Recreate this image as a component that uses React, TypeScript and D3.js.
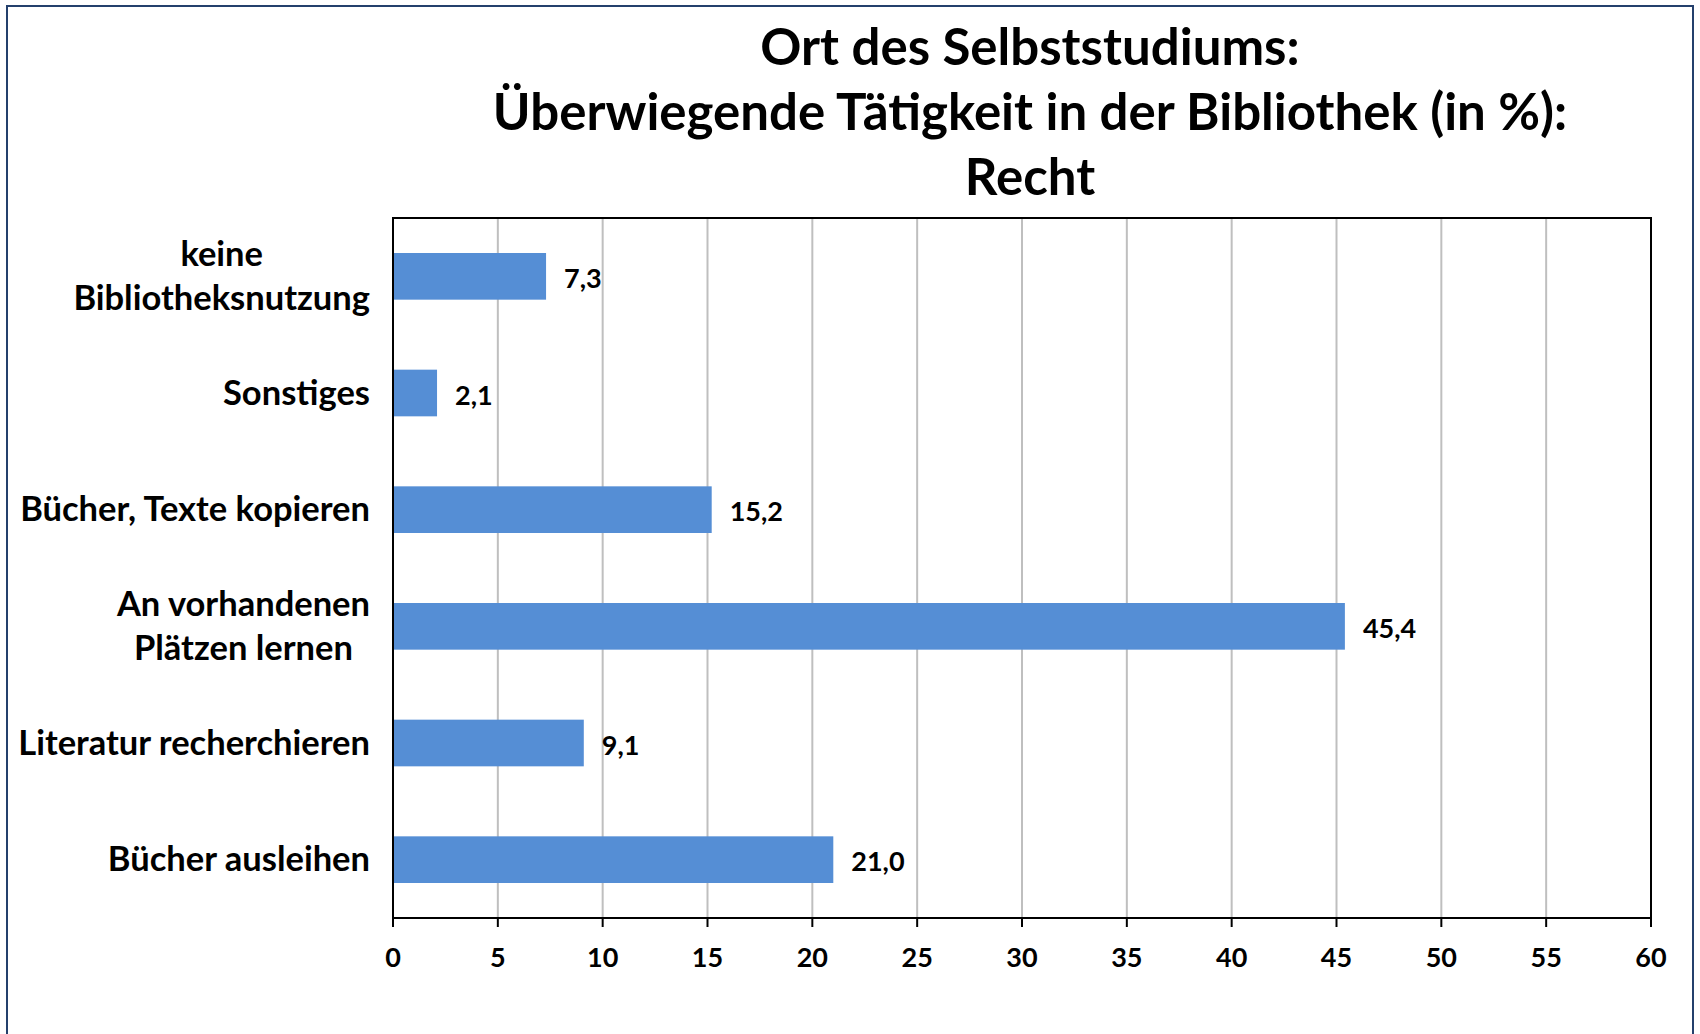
import React from "react";
import * as d3 from "d3";

const titleLines = [
  "Ort des Selbststudiums:",
  "Überwiegende Tätigkeit in der Bibliothek (in %):",
  "Recht",
];
const categories = [
  "keine Bibliotheksnutzung",
  "Sonstiges",
  "Bücher, Texte kopieren",
  "An vorhandenen Plätzen lernen",
  "Literatur recherchieren",
  "Bücher ausleihen",
];
const categoryLines = [
  ["keine", "Bibliotheksnutzung"],
  ["Sonstiges"],
  ["Bücher, Texte kopieren"],
  ["An vorhandenen", "Plätzen lernen"],
  ["Literatur recherchieren"],
  ["Bücher ausleihen"],
];
const values = [7.3, 2.1, 15.2, 45.4, 9.1, 21.0];
const xTicks = [0, 5, 10, 15, 20, 25, 30, 35, 40, 45, 50, 55, 60];

const W = 1700;
const H = 1034;
const plot = { left: 393, right: 1651, top: 218, bottom: 918 };
const FONT = "Lato, 'Open Sans', sans-serif";
const CAT_SIZE = 34.5;
const NUM_SIZE = 27;

export default function App() {
  const x = d3.scaleLinear().domain([0, 60]).range([plot.left, plot.right]);
  const y = d3
    .scaleBand<string>()
    .domain(categories)
    .range([plot.top, plot.bottom])
    .paddingInner(0.6)
    .paddingOuter(0.3);
  const fmt = (v: number) => v.toFixed(1).replace(".", ",");
  const labelRight = 370;
  const lineGap = 44;

  return (
    <svg
      width={W}
      height={H}
      style={{ position: "absolute", left: 0, top: 0, background: "#fff" }}
      fontFamily={FONT}
      fontWeight={700}
    >
      <rect x={0} y={0} width={W} height={H} fill="#fff" />
      {/* outer chart border */}
      <rect x={7} y={6} width={1686} height={1100} fill="none" stroke="#24406c" strokeWidth={2} />

      {/* title */}
      {titleLines.map((t, i) => (
        <text key={t} x={1030} y={65 + i * 65} textAnchor="middle" fontSize={51} fill="#000">
          {t}
        </text>
      ))}

      {/* gridlines */}
      {xTicks.slice(1, -1).map((t) => (
        <line key={"g" + t} x1={x(t)} x2={x(t)} y1={plot.top} y2={plot.bottom} stroke="#bfbfbf" strokeWidth={2} />
      ))}

      {/* bars */}
      {categories.map((c, i) => (
        <rect
          key={c}
          x={x(0)}
          y={y(c)}
          width={x(values[i]) - x(0)}
          height={y.bandwidth()}
          fill="#558ed5"
        />
      ))}

      {/* plot border */}
      <rect
        x={plot.left}
        y={plot.top}
        width={plot.right - plot.left}
        height={plot.bottom - plot.top}
        fill="none"
        stroke="#000"
        strokeWidth={2}
      />

      {/* ticks */}
      {xTicks.map((t) => (
        <g key={"t" + t}>
          <line x1={x(t)} x2={x(t)} y1={plot.bottom} y2={plot.bottom + 9} stroke="#000" strokeWidth={2} />
          <text x={x(t)} y={956} textAnchor="middle" dominantBaseline="central" fontSize={NUM_SIZE} fill="#000">
            {t}
          </text>
        </g>
      ))}

      {/* value labels */}
      {categories.map((c, i) => (
        <text
          key={"v" + c}
          x={x(values[i]) + 18}
          y={(y(c) as number) + y.bandwidth() / 2 + 1}
          dominantBaseline="central"
          fontSize={NUM_SIZE}
          fill="#000"
        >
          {fmt(values[i])}
        </text>
      ))}

      {/* category labels */}
      {categories.map((c, i) => {
        const lines = categoryLines[i];
        const cy = (y(c) as number) + y.bandwidth() / 2 - 2;
        if (lines.length === 1) {
          return (
            <text key={"c" + c} x={labelRight} y={cy} textAnchor="end" dominantBaseline="central" fontSize={CAT_SIZE} fill="#000">
              {lines[0]}
            </text>
          );
        }
        return (
          <CenteredBlock key={"c" + c} lines={lines} right={labelRight} cy={cy} gap={lineGap} />
        );
      })}
    </svg>
  );
}

function CenteredBlock({ lines, right, cy, gap }: { lines: string[]; right: number; cy: number; gap: number }) {
  const ref = React.useRef<SVGGElement>(null);
  const [cx, setCx] = React.useState<number | null>(null);
  React.useLayoutEffect(() => {
    if (!ref.current) return;
    const texts = Array.from(ref.current.querySelectorAll("text")) as SVGTextElement[];
    const maxW = Math.max(...texts.map((t) => t.getComputedTextLength()));
    setCx(right - maxW / 2);
  }, [right]);
  const startY = cy - ((lines.length - 1) * gap) / 2;
  return (
    <g ref={ref}>
      {lines.map((l, j) => (
        <text
          key={l}
          x={cx ?? right}
          y={startY + j * gap}
          textAnchor={cx === null ? "end" : "middle"}
          dominantBaseline="central"
          fontSize={CAT_SIZE}
          fill="#000"
        >
          {l}
        </text>
      ))}
    </g>
  );
}
